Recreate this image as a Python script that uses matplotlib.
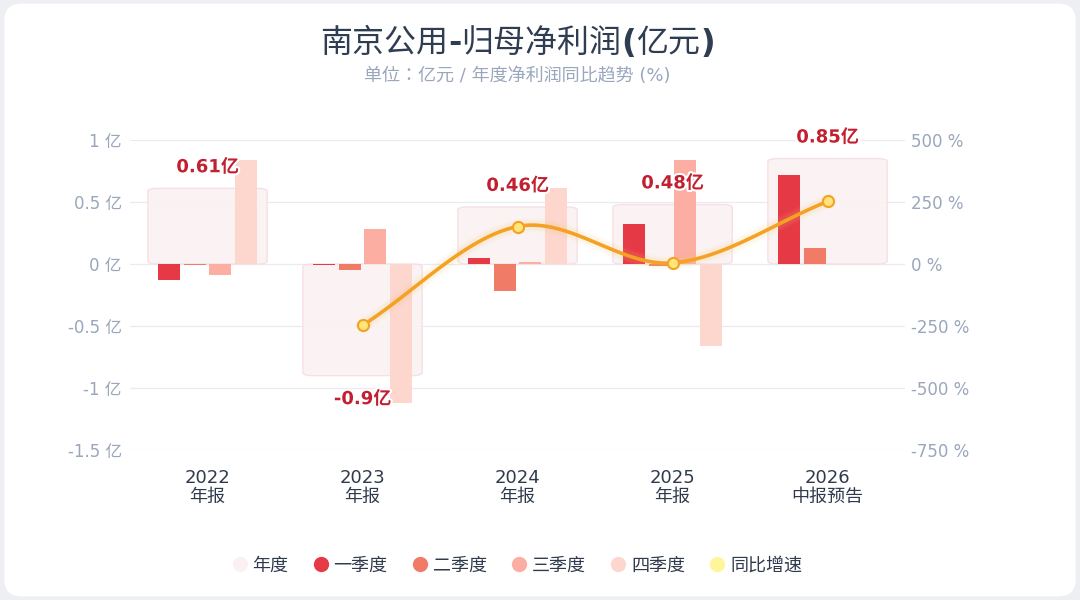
import numpy as np
import matplotlib
matplotlib.use("Agg")
import matplotlib.pyplot as plt
from matplotlib.patches import FancyBboxPatch
from matplotlib.lines import Line2D
import matplotlib.patheffects as pe

plt.rcParams['font.family'] = ['DejaVu Sans', 'Noto Sans CJK SC']

# Data
years = ['2022', '2023', '2024', '2025', '2026']
periods = ['年报', '年报', '年报', '年报', '中报预告']
annual = [0.61, -0.90, 0.46, 0.48, 0.85]
q1 = [-0.13, -0.01, 0.05, 0.32, 0.72]
q2 = [-0.01, -0.05, -0.22, -0.02, 0.13]
q3 = [-0.09, 0.28, 0.02, 0.84, np.nan]
q4 = [0.84, -1.12, 0.61, -0.66, np.nan]
yoy = [np.nan, -247.5, 151.1, 4.3, 252.0]

left_ticks = [1, 0.5, 0, -0.5, -1, -1.5]
left_labels = ['1 亿', '0.5 亿', '0 亿', '-0.5 亿', '-1 亿', '-1.5 亿']
right_ticks = [500, 250, 0, -250, -500, -750]
right_labels = ['500 %', '250 %', '0 %', '-250 %', '-500 %', '-750 %']

c_year = '#FBF1F2'
c_year_edge = '#F6DCE1'
q_colors = ['#E63946', '#F07B67', '#FBAEA1', '#FDD6CE']
c_line = '#F4A124'
c_dot = '#FFE57A'
c_tick = '#9AA6BC'
c_text = '#2F3A4C'
c_lab = '#C21F30'

fig = plt.figure(figsize=(10.8, 6), dpi=100)
fig.patch.set_facecolor('#EEEFF2')
card = FancyBboxPatch((0.004, 0.006), 0.992, 0.988, boxstyle='round,pad=0,rounding_size=0.016',
                      transform=fig.transFigure, facecolor='white', edgecolor='none',
                      mutation_aspect=1.8, zorder=-5)
fig.patches.append(card)

ax = fig.add_axes([0.1204, 0.25, 0.7176, 0.5167])
ax.set_facecolor('none')
ax2 = ax.twinx()

x = np.arange(len(years))

# annual boxes
box_w = 0.77
for i, v in enumerate(annual):
    y0, h = (0, v) if v >= 0 else (v, -v)
    p = FancyBboxPatch((i - box_w / 2, y0), box_w, h,
                       boxstyle='round,pad=0,rounding_size=0.06',
                       mutation_aspect=0.4,
                       facecolor=c_year, edgecolor=c_year_edge, lw=1.0, alpha=0.85, zorder=2)
    ax.add_patch(p)

# quarter bars
bw = 0.142
offs = [-0.25, -0.083, 0.083, 0.25]
for k, qs in enumerate([q1, q2, q3, q4]):
    ax.bar(x + offs[k], qs, width=bw, color=q_colors[k], zorder=3)

# annual labels
for i, v in enumerate(annual):
    off = 0.17 if v >= 0 else -0.19
    ax.text(i, v + off, f'{v:g}亿', ha='center', va='center', fontsize=13,
            fontweight='bold', color=c_lab, zorder=6,
            path_effects=[pe.withStroke(linewidth=3, foreground='white')])

ax.set_xlim(-0.5, 4.5)
ax.set_ylim(-1.5, 1)
ax.set_yticks(left_ticks)
ax.set_yticklabels(left_labels)
ax.set_xticks(x)
ax.set_xticklabels([f'{a}\n{b}' for a, b in zip(years, periods)], fontsize=13,
                   color=c_text, linespacing=1.0)
ax.tick_params(axis='y', colors=c_tick, labelsize=12, length=0, pad=6)
ax.tick_params(axis='x', length=0, pad=14)
ax.grid(axis='y', color='#E9EBEF', lw=0.9, zorder=0)
ax.set_axisbelow(True)
for s in ax.spines.values():
    s.set_visible(False)

# growth line (smoothed for display)
xs = np.array([i for i in x if not np.isnan(yoy[i])], dtype=float)
ys = np.array([yoy[i] for i in x if not np.isnan(yoy[i])])
px = np.concatenate([[2 * xs[0] - xs[1]], xs, [2 * xs[-1] - xs[-2]]])
py = np.concatenate([[2 * ys[0] - ys[1]], ys, [2 * ys[-1] - ys[-2]]])
cx, cy = [], []
t = np.linspace(0, 1, 40)
for j in range(1, len(px) - 2):
    for arr, out in ((px, cx), (py, cy)):
        p0, p1, p2, p3 = arr[j - 1:j + 3]
        out.extend(0.5 * ((2 * p1) + (-p0 + p2) * t + (2 * p0 - 5 * p1 + 4 * p2 - p3) * t ** 2
                          + (-p0 + 3 * p1 - 3 * p2 + p3) * t ** 3))
for lw, a in [(10, 0.06), (7, 0.1)]:
    ax2.plot(cx, cy, color='#F7C46A', lw=lw, alpha=a, solid_capstyle='round', zorder=4)
ax2.plot(cx, cy, color=c_line, lw=2.6, zorder=5)
ax2.plot(xs, ys, 'o', ms=8, mfc=c_dot, mec=c_line, mew=1.5, zorder=6)

ax2.set_ylim(-750, 500)
ax2.set_yticks(right_ticks)
ax2.set_yticklabels(right_labels)
ax2.tick_params(axis='y', colors=c_tick, labelsize=12, length=0, pad=4)
for s in ax2.spines.values():
    s.set_visible(False)

# title: CJK regular, latin punctuation bold (pieces chained together)
cx_fig = 0.479
pieces = [('南京公用', 'normal'), ('-', 'bold'), ('归母净利润', 'normal'),
          ('(', 'bold'), ('亿元', 'normal'), (')', 'bold')]
arts = []
prev = None
for s, w in pieces:
    if prev is None:
        a = fig.text(0, 0.93, s, ha='left', va='baseline', fontsize=23, fontweight=w,
                     color='#2E3D52')
    else:
        a = fig.text(0, 0, s, ha='left', va='baseline', fontsize=23, fontweight=w,
                     color='#2E3D52')
    arts.append(a)
    prev = a
fig.canvas.draw()
r = fig.canvas.get_renderer()
W = fig.bbox.width
pos = []
xcur = 0.0
for a in arts:
    bb = a.get_window_extent(r)
    pos.append(xcur)
    xcur += bb.width / W
total = xcur
for a, p0 in zip(arts, pos):
    a.set_position((cx_fig - total / 2 + p0, 0.913))

fig.text(cx_fig, 0.873, '单位：亿元 / 年度净利润同比趋势 (%)', ha='center', va='center',
         fontsize=13, color='#9AA6BC', family=['DejaVu Sans', 'Noto Sans CJK JP'])

handles = [Line2D([], [], ls='none', marker='o', ms=11, mfc=c, mec='none')
           for c in [c_year, *q_colors, '#FFF59A']]
names = ['年度', '一季度', '二季度', '三季度', '四季度', '同比增速']
fig.legend(handles, names, loc='center', bbox_to_anchor=(cx_fig, 0.057), ncol=6, frameon=False,
           fontsize=13, handlelength=0.8, handletextpad=0.3, columnspacing=1.4,
           labelcolor=c_text)

fig.savefig('out.png', dpi=100, facecolor=fig.get_facecolor())
